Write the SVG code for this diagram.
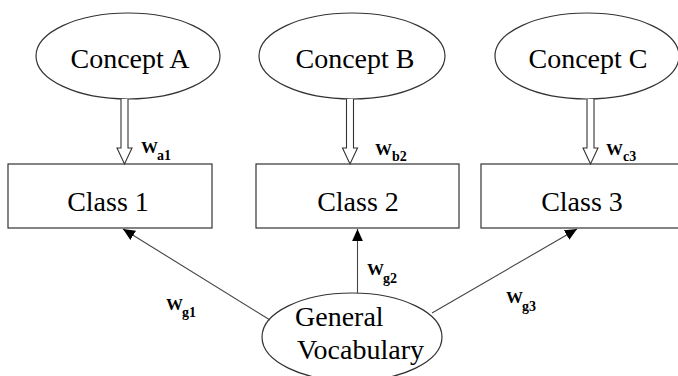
<svg xmlns="http://www.w3.org/2000/svg" width="678" height="376" viewBox="0 0 678 376">
<defs>
<style>
text{font-family:'Liberation Serif','Tinos','Times New Roman','DejaVu Serif',serif;fill:#000}
.node{fill:#fff;stroke:#333;stroke-width:1.2}
.lbl{font-size:28px}
.w{font-size:17px;font-weight:bold}
.s{font-size:14px;font-weight:bold}
.dbl{fill:#fff;stroke:#333;stroke-width:1.1}
.ln{fill:none;stroke:#444;stroke-width:1.1}
</style>
<marker id="ah" markerUnits="userSpaceOnUse" markerWidth="12" markerHeight="12" viewBox="0 0 10 10" refX="10" refY="5" orient="auto">
<path d="M0,0.5 L10,5 L0,9.5 Z" fill="#000"/>
</marker>
</defs>
<rect width="678" height="376" fill="#fff"/>
<g id="conceptA"><ellipse class="node" cx="128" cy="56" rx="92" ry="43"/><text class="lbl" x="130" y="68" text-anchor="middle">Concept A</text></g>
<g id="conceptB"><ellipse class="node" cx="352" cy="56" rx="93" ry="43"/><text class="lbl" x="355" y="68" text-anchor="middle">Concept B</text></g>
<g id="conceptC"><ellipse class="node" cx="587" cy="56" rx="92" ry="43"/><text class="lbl" x="588" y="68" text-anchor="middle">Concept C</text></g>
<g id="class1"><rect class="node" x="8" y="164" width="204" height="64"/><text class="lbl" x="108" y="211" text-anchor="middle">Class 1</text></g>
<g id="class2"><rect class="node" x="256" y="164" width="203" height="64"/><text class="lbl" x="358" y="211" text-anchor="middle">Class 2</text></g>
<g id="class3"><rect class="node" x="481" y="164" width="210" height="64"/><text class="lbl" x="582" y="211" text-anchor="middle">Class 3</text></g>
<g id="general"><ellipse class="node" cx="352" cy="337" rx="90" ry="44"/><text class="lbl" x="295" y="326">General</text><text class="lbl" x="297" y="359">Vocabulary</text></g>
<g id="connectors">
<path class="dbl" d="M121,99 V148 H117 L124.5,164 L132,148 H128 V99"/>
<path class="dbl" d="M346.5,99 V148 H342.5 L350,164 L357.5,148 H353.5 V99"/>
<path class="dbl" d="M587,99 V148 H583 L590.5,164 L598,148 H594 V99"/>
<line class="ln" x1="270" y1="320" x2="123" y2="229" marker-end="url(#ah)"/>
<line class="ln" x1="357.5" y1="293" x2="357.5" y2="229" marker-end="url(#ah)"/>
<line class="ln" x1="432" y1="313" x2="577" y2="229" marker-end="url(#ah)"/>
<text class="w" x="141" y="153">W</text><text class="s" x="157" y="160">a1</text>
<text class="w" x="375" y="155">W</text><text class="s" x="392" y="161">b2</text>
<text class="w" x="606" y="155">W</text><text class="s" x="623" y="161">c3</text>
<text class="w" x="166" y="310">W</text><text class="s" x="182" y="317">g1</text>
<text class="w" x="367" y="275">W</text><text class="s" x="383" y="283">g2</text>
<text class="w" x="506" y="303">W</text><text class="s" x="522" y="311">g3</text>
</g>
</svg>
